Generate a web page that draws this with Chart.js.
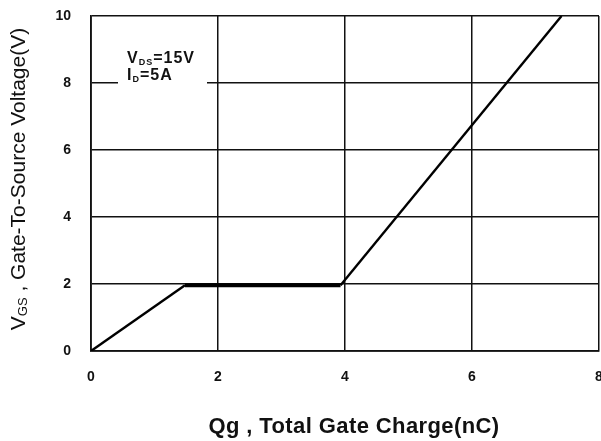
<!DOCTYPE html>
<html>
<head>
<meta charset="utf-8">
<script src="https://cdn.jsdelivr.net/npm/chart.js@4"></script>
<style>
  html, body { margin: 0; padding: 0; background: #fff; }
  #wrap { width: 601px; height: 441px; }
</style>
</head>
<body>
<div id="wrap"><canvas id="myChart" width="601" height="441"></canvas></div>
<script>
// gate charge curve
const qg = [0, 1.48, 3.93, 7.41];
const vgs = [0, 1.96, 1.96, 10];
const xTicks = [0, 2, 4, 6, 8];
const yTicks = [0, 2, 4, 6, 8, 10];

const ctx = document.getElementById('myChart').getContext('2d');

// titles with subscripts and the test-condition note
const textPlugin = {
  id: 'texts',
  afterDraw(chart) {
    const c = chart.ctx;
    c.save();
    c.textBaseline = 'alphabetic';

    // note box
    c.fillStyle = '#fff';
    c.fillRect(118, 38, 89, 52);
    c.fillStyle = '#111';
    c.letterSpacing = '1px';
    const nb = 'bold 16px "Liberation Sans", Arial';
    const ns = 'bold 9px "Liberation Sans", Arial';
    c.textAlign = 'left';
    let x = 127;
    c.font = nb;
    c.fillText('V', x, 63);
    x += c.measureText('V').width;
    c.font = ns;
    c.fillText('DS', x, 65);
    x += c.measureText('DS').width;
    c.font = nb;
    c.fillText('=15V', x, 63);
    x = 127;
    c.fillText('I', x, 80);
    x += c.measureText('I').width;
    c.font = ns;
    c.fillText('D', x, 82);
    x += c.measureText('D').width;
    c.font = nb;
    c.fillText('=5A', x, 80);

    // x title
    c.letterSpacing = '0.4px';
    c.font = 'bold 22px "Liberation Sans", Arial';
    c.textAlign = 'center';
    c.fillText('Qg , Total Gate Charge(nC)', 354, 433);

    // y title, rotated
    c.letterSpacing = '0px';
    c.translate(25, 179);
    c.rotate(-Math.PI / 2);
    const big = '21px "Liberation Sans", Arial';
    const small = '13px "Liberation Sans", Arial';
    c.font = big;
    const w1 = c.measureText('V').width;
    const rest = ' , Gate-To-Source Voltage(V)';
    const w3 = c.measureText(rest).width;
    c.font = small;
    const w2 = c.measureText('GS').width;
    let sx = -(w1 + w2 + w3) / 2;
    c.textAlign = 'left';
    c.font = big;
    c.fillText('V', sx, 0);
    sx += w1;
    c.font = small;
    c.fillText('GS', sx, 2);
    sx += w2;
    c.font = big;
    c.fillText(rest, sx, 0);
    c.restore();
  }
};

new Chart(ctx, {
  type: 'line',
  data: {
    datasets: [{
      data: qg.map((q, i) => ({ x: q, y: vgs[i] })),
      borderColor: '#000',
      borderWidth: 2.4,
      pointRadius: 0,
      tension: 0,
      segment: {
        borderWidth: s => (s.p0DataIndex === 1 ? 4 : 2.4)
      }
    }]
  },
  options: {
    responsive: false,
    animation: false,
    layout: { padding: { top: 16, right: 2, left: 0, bottom: 0 } },
    scales: {
      x: {
        type: 'linear',
        min: 0,
        max: 8,
        afterBuildTicks: axis => { axis.ticks = xTicks.map(v => ({ value: v })); },
        afterFit: axis => {
          axis.height = 90;
          axis.paddingLeft = 0;
          axis.paddingRight = 0;
        },
        grid: { color: '#111', lineWidth: 1.5, drawTicks: false },
        border: { color: '#111', width: 1.8 },
        ticks: {
          padding: 18,
          color: '#111',
          maxRotation: 0,
          font: { family: '"Liberation Sans", Arial', size: 14, weight: 'bold' }
        }
      },
      y: {
        type: 'linear',
        min: 0,
        max: 10,
        afterBuildTicks: axis => { axis.ticks = yTicks.map(v => ({ value: v })); },
        afterFit: axis => {
          axis.width = 91;
          axis.paddingTop = 0;
          axis.paddingBottom = 0;
        },
        grid: { color: '#111', lineWidth: 1.5, drawTicks: false },
        border: { color: '#111', width: 1.8 },
        ticks: {
          padding: 20,
          color: '#111',
          font: { family: '"Liberation Sans", Arial', size: 14, weight: 'bold' }
        }
      }
    },
    plugins: {
      legend: { display: false },
      tooltip: { enabled: false }
    }
  },
  plugins: [textPlugin]
});
</script>
</body>
</html>
